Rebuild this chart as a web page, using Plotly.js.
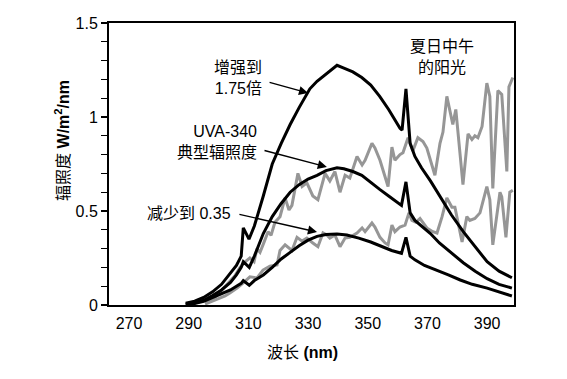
<!DOCTYPE html>
<html>
<head>
<meta charset="utf-8">
<script src="https://cdn.plot.ly/plotly-3.0.1.min.js"></script>
<style>html,body{margin:0;padding:0;background:#fff;}#chart{width:567px;height:379px;}</style>
</head>
<body>
<div id="chart"></div>
<script>
// Black curves: UVA-340 lamp (boosted 1.75x, typical, reduced to 0.35)
var highWl = [289, 292, 295, 298, 301, 304, 306, 307.6, 308.3, 310.2, 312, 315, 318, 321, 324, 327, 330.6, 333, 336, 339.7, 342, 345, 348, 351, 354, 357, 360.8, 361.5, 362.8, 364.2, 365.8, 368, 371, 374, 378, 382, 386, 390, 394, 398.3];
var highVal = [0.01, 0.02, 0.04, 0.07, 0.11, 0.17, 0.21, 0.26, 0.41, 0.35, 0.42, 0.58, 0.75, 0.86, 0.96, 1.05, 1.15, 1.19, 1.23, 1.275, 1.26, 1.24, 1.21, 1.17, 1.11, 1.04, 0.94, 0.93, 1.15, 0.86, 0.79, 0.73, 0.66, 0.58, 0.48, 0.39, 0.31, 0.23, 0.18, 0.145];

var typWl = [289, 292, 295, 298, 301, 304, 306, 307.6, 308.3, 310.3, 312, 315, 318, 321, 324, 327, 330, 333, 336, 339.7, 342, 345, 348, 351, 354, 357, 361.3, 362.8, 364.2, 365.8, 368, 371, 374, 378, 382, 386, 390, 394, 398.3];
var typVal = [0.005, 0.01, 0.025, 0.05, 0.08, 0.12, 0.16, 0.2, 0.23, 0.2, 0.26, 0.38, 0.47, 0.54, 0.6, 0.64, 0.67, 0.69, 0.715, 0.73, 0.725, 0.71, 0.69, 0.65, 0.615, 0.58, 0.53, 0.655, 0.49, 0.45, 0.42, 0.38, 0.33, 0.275, 0.225, 0.18, 0.14, 0.11, 0.09];

var lowWl = [289, 292, 295, 298, 301, 304, 306, 307.6, 308.3, 310.3, 312, 315, 318, 321, 324, 327, 330, 333, 336, 339.7, 343, 347, 351, 354, 358, 361.3, 362.8, 364.2, 365.8, 369, 373, 377, 381, 385, 390, 394, 398.3];
var lowVal = [0.003, 0.008, 0.02, 0.04, 0.06, 0.08, 0.1, 0.115, 0.13, 0.105, 0.13, 0.16, 0.2, 0.245, 0.28, 0.315, 0.345, 0.365, 0.375, 0.378, 0.372, 0.356, 0.335, 0.315, 0.29, 0.275, 0.36, 0.26, 0.24, 0.21, 0.186, 0.16, 0.133, 0.11, 0.09, 0.068, 0.048];

// Gray curves: summer noon sunlight (two levels)
var sunHiWl = [295.5, 297.1, 298.8, 300.5, 302.2, 303.8, 305.5, 307.2, 308.9, 310.5, 311.9, 312.9, 313.9, 314.9, 316.6, 317.6, 318.9, 320.6, 322.3, 323.6, 324.6, 326.6, 328.0, 329.6, 331.6, 333.3, 335.7, 337.3, 339.0, 340.7, 342.4, 344.0, 346.4, 348.1, 349.1, 351.4, 352.4, 354.1, 355.8, 356.8, 358.1, 359.1, 360.8, 361.8, 363.5, 365.1, 366.8, 368.5, 369.8, 372.5, 374.2, 375.2, 376.5, 377.5, 378.5, 379.5, 381.9, 383.6, 384.9, 385.9, 386.9, 388.3, 389.9, 390.9, 391.9, 393.6, 394.9, 396.6, 397.3, 398.6];
var sunHiVal = [0.01, 0.02, 0.04, 0.07, 0.1, 0.13, 0.155, 0.2, 0.23, 0.25, 0.23, 0.3, 0.28, 0.32, 0.39, 0.37, 0.44, 0.47, 0.57, 0.505, 0.53, 0.7, 0.63, 0.65, 0.58, 0.56, 0.7, 0.66, 0.71, 0.6, 0.69, 0.675, 0.79, 0.745, 0.77, 0.86, 0.835, 0.77, 0.68, 0.63, 0.84, 0.77, 0.8, 0.81, 0.89, 0.82, 0.89, 0.87, 0.835, 0.69, 0.86, 0.92, 1.11, 1.04, 0.96, 1.04, 0.64, 0.91, 0.88, 0.9, 0.89, 0.95, 1.18, 1.11, 0.62, 1.14, 1.12, 0.71, 1.16, 1.21];

var sunLoWl = [295.5, 298.8, 302.2, 303.8, 306.2, 308.2, 310.5, 312.9, 314.9, 317.2, 319.6, 320.6, 322.3, 324.6, 326.3, 328.0, 329.6, 331.6, 333.3, 335.0, 336.3, 337.3, 339.0, 340.7, 342.4, 344.0, 346.4, 348.1, 349.1, 351.4, 352.4, 354.1, 355.8, 356.8, 358.1, 359.1, 360.8, 362.5, 363.8, 364.8, 366.1, 367.5, 369.8, 371.8, 373.2, 374.9, 376.5, 378.2, 379.2, 381.6, 383.2, 384.2, 385.9, 387.6, 389.9, 390.9, 391.9, 394.3, 394.9, 396.3, 397.6, 398.6];
var sunLoVal = [0.005, 0.027, 0.048, 0.064, 0.09, 0.117, 0.15, 0.144, 0.186, 0.207, 0.213, 0.29, 0.32, 0.29, 0.36, 0.34, 0.356, 0.33, 0.31, 0.383, 0.372, 0.356, 0.372, 0.31, 0.356, 0.36, 0.383, 0.41, 0.39, 0.436, 0.415, 0.36, 0.33, 0.32, 0.425, 0.39, 0.415, 0.425, 0.49, 0.45, 0.44, 0.46, 0.41, 0.39, 0.383, 0.47, 0.57, 0.52, 0.52, 0.335, 0.47, 0.45, 0.46, 0.49, 0.63, 0.56, 0.32, 0.6, 0.575, 0.36, 0.6, 0.61];

var xTicks = [270, 290, 310, 330, 350, 370, 390];
var yTicks = [0, 0.5, 1, 1.5];
var yTickText = ['0', '0.5', '1', '1.5'];

var FONT = 'Liberation Sans, Arial, Noto Sans CJK SC, sans-serif';
var gray = '#969696';

var traces = [
  {x: sunHiWl, y: sunHiVal, mode: 'lines', line: {color: gray, width: 3}},
  {x: sunLoWl, y: sunLoVal, mode: 'lines', line: {color: gray, width: 3}},
  {x: lowWl, y: lowVal, mode: 'lines', line: {color: '#000', width: 3}},
  {x: typWl, y: typVal, mode: 'lines', line: {color: '#000', width: 3}},
  {x: highWl, y: highVal, mode: 'lines', line: {color: '#000', width: 3}}
];

var arrowBase = {showarrow: true, arrowhead: 2, arrowsize: 1.3, arrowwidth: 1.4, arrowcolor: '#000', axref: 'x', ayref: 'y', xref: 'x', yref: 'y', text: ''};

var layout = {
  width: 567, height: 379,
  margin: {l: 109, r: 53, t: 23, b: 74},
  paper_bgcolor: '#fff', plot_bgcolor: '#fff',
  showlegend: false,
  font: {family: FONT, size: 16, color: '#000'},
  xaxis: {
    range: [263.3, 399], tickvals: xTicks, ticks: '', showgrid: false, zeroline: false,
    showline: true, mirror: true, linecolor: '#000', linewidth: 2,
    tickfont: {size: 16}, ticklabelstandoff: 3
  },
  yaxis: {
    range: [0, 1.5], tickvals: yTicks, ticktext: yTickText, ticks: 'outside', ticklen: 6, tickwidth: 1.2, tickcolor: '#000',
    minor: {dtick: 0.1, tick0: 0, ticks: 'outside', ticklen: 6, tickwidth: 1.2, tickcolor: '#000', showgrid: false},
    showgrid: false, zeroline: false,
    showline: true, mirror: true, linecolor: '#000', linewidth: 2,
    tickfont: {size: 16}
  },
  annotations: [
    Object.assign({}, arrowBase, {x: 330.0, y: 1.128, ax: 316.6, ay: 1.186}),
    Object.assign({}, arrowBase, {x: 336.3, y: 0.734, ax: 314.9, ay: 0.824}),
    Object.assign({}, arrowBase, {x: 333.0, y: 0.388, ax: 306.5, ay: 0.484}),
    {xref: 'x', yref: 'y', x: 315.2, y: 1.207, text: '增强到<br>1.75倍', showarrow: false, xanchor: 'right', yanchor: 'middle', align: 'right', font: {size: 16}},
    {xref: 'x', yref: 'y', x: 313.4, y: 0.867, text: 'UVA-340<br>典型辐照度', showarrow: false, xanchor: 'right', yanchor: 'middle', align: 'right', font: {size: 16}},
    {xref: 'x', yref: 'y', x: 290.1, y: 0.489, text: '减少到 0.35', showarrow: false, xanchor: 'center', yanchor: 'middle', font: {size: 16}},
    {xref: 'x', yref: 'y', x: 374.9, y: 1.319, text: '夏日中午<br>的阳光', showarrow: false, xanchor: 'center', yanchor: 'middle', align: 'center', font: {size: 16}},
    {xref: 'paper', yref: 'paper', x: -0.116, y: 0.582, text: '辐照度 <b>W/m<sup>2</sup>/nm</b>', textangle: -90, showarrow: false, xanchor: 'center', yanchor: 'middle', font: {size: 16}},
    {xref: 'paper', yref: 'paper', x: 0.479, y: -0.170, text: '波长 <b>(nm)</b>', showarrow: false, xanchor: 'center', yanchor: 'middle', font: {size: 16}}
  ]
};

Plotly.newPlot('chart', traces, layout, {staticPlot: true, displayModeBar: false});
</script>
</body>
</html>
